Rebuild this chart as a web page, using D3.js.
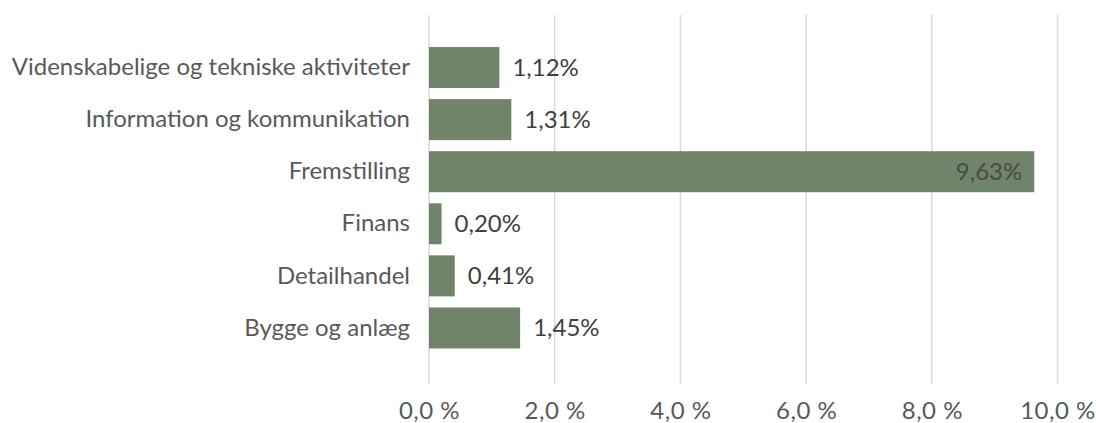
<!DOCTYPE html>
<html><head><meta charset="utf-8">
<script src="https://cdn.jsdelivr.net/npm/d3@7"></script>
<style>
html,body{margin:0;padding:0;background:#fff;}
svg text{font-family:"Lato","Open Sans",sans-serif;}
</style></head>
<body>
<svg id="c" width="1096" height="423"></svg>
<script>
const categories = ["Videnskabelige og tekniske aktiviteter","Information og kommunikation","Fremstilling","Finans","Detailhandel","Bygge og anlæg"];
const values = [1.12, 1.31, 9.63, 0.20, 0.41, 1.45];
const valueLabels = ["1,12%","1,31%","9,63%","0,20%","0,41%","1,45%"];
const ticks = [0, 2, 4, 6, 8, 10];
const tickLabels = ["0,0 %","2,0 %","4,0 %","6,0 %","8,0 %","10,0 %"];

const svg = d3.select("#c");
const x = d3.scaleLinear().domain([0, 10]).range([429, 1057.5]);
const y = d3.scaleBand().domain(categories).range([41.5, 354]).paddingInner(0.213).paddingOuter(0.1065);

svg.append("g").selectAll("line").data(ticks).join("line")
  .attr("x1", d => x(d)).attr("x2", d => x(d))
  .attr("y1", 15).attr("y2", 384)
  .attr("stroke", "#d9d9d9").attr("stroke-width", 1.5);

svg.append("g").selectAll("rect").data(values).join("rect")
  .attr("x", x(0)).attr("y", (d, i) => y(categories[i]))
  .attr("width", d => x(d) - x(0)).attr("height", y.bandwidth())
  .attr("fill", "#6f8469");

const xAxis = d3.axisBottom(x).tickValues(ticks).tickFormat((d, i) => tickLabels[i]).tickSize(0).tickPadding(0);
const gx = svg.append("g").attr("transform", "translate(0,402)").call(xAxis);
gx.select(".domain").remove();
gx.selectAll("text").attr("fill", "#595959").attr("font-size", "24px").attr("dy", "0.71em").attr("letter-spacing", "0.5px");

const yAxis = d3.axisLeft(y).tickSize(0).tickPadding(0);
const gy = svg.append("g").attr("transform", "translate(410,0)").call(yAxis);
gy.select(".domain").remove();
gy.selectAll("text").attr("fill", "#595959").attr("font-size", "24px");

svg.append("g").selectAll("text").data(values).join("text")
  .attr("x", d => d > 5 ? x(d) - 12 : x(d) + 13)
  .attr("y", (d, i) => y(categories[i]) + y.bandwidth() / 2)
  .attr("dy", "0.35em")
  .attr("text-anchor", d => d > 5 ? "end" : "start")
  .attr("fill", d => d > 5 ? "#4a4a4a" : "#404040")
  .attr("font-size", "24px")
  .text((d, i) => valueLabels[i]);
</script>
</body></html>
